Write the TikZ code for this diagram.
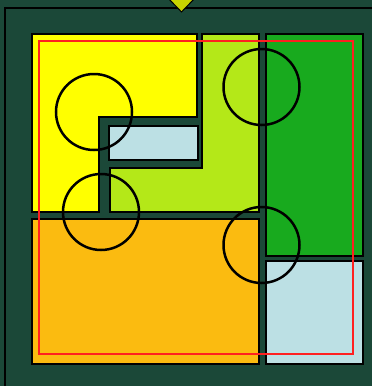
\documentclass[tikz,border=0pt]{standalone}
\usetikzlibrary{positioning}
\definecolor{bgdark}{RGB}{27,72,56}
\definecolor{tileyellow}{RGB}{255,255,0}
\definecolor{tilelime}{RGB}{180,232,24}
\definecolor{tilegreen}{RGB}{24,170,30}
\definecolor{tileorange}{RGB}{251,187,16}
\definecolor{tileblue}{RGB}{188,224,228}
\definecolor{marker}{RGB}{200,212,0}
\definecolor{redline}{RGB}{255,32,32}

\begin{document}
\begin{tikzpicture}[x=1pt, y=-1pt,
  tile/.style={draw=black, line width=1.4pt, anchor=north west, inner sep=0pt, outer sep=0pt},
  ring/.style={draw=black, line width=2.5pt, circle, minimum size=76pt, inner sep=0pt},
  frame/.style={draw=redline, line width=2.5pt}
]
\useasboundingbox (0,0) rectangle (372,386);
\clip (0,0) rectangle (372,386);
\fill[bgdark] (0,0) rectangle (372,386);
\draw[black, line width=1.2pt] (5,390) -- (5,8) -- (380,8);
% marker on top
\fill[marker] (168,-2) -- (181.5,12) -- (195,-2) -- cycle;
\draw[black, line width=1pt] (168,-2) -- (181.5,12) -- (195,-2);
% L-shaped tiles
\draw[tile, fill=tileyellow] (32,34) -- (197,34) -- (197,117) -- (99,117) -- (99,212) -- (32,212) -- cycle;
\draw[tile, fill=tilelime] (202,34) -- (259,34) -- (259,212) -- (110,212) -- (110,168) -- (202,168) -- cycle;
% rectangular tiles
\node[tile, fill=tileblue, minimum width=89pt, minimum height=34pt] (hole) at (109,126) {};
\node[tile, fill=tilegreen, minimum width=97pt, minimum height=222pt] (green) at (266,34) {};
\node[tile, fill=tileorange, minimum width=227pt, minimum height=145pt] (orange) at (32,219) {};
\node[tile, fill=tileblue, minimum width=97pt, minimum height=103pt] (corner) at (266,261) {};
% red outline
\draw[frame] (39,41) rectangle (353,354);
% circles
\node[ring] (c1) at (94,112) {};
\node[ring] (c2) at (261.5,87) {};
\node[ring] (c3) at (101,212) {};
\node[ring] (c4) at (261.5,245) {};
\end{tikzpicture}
\end{document}
